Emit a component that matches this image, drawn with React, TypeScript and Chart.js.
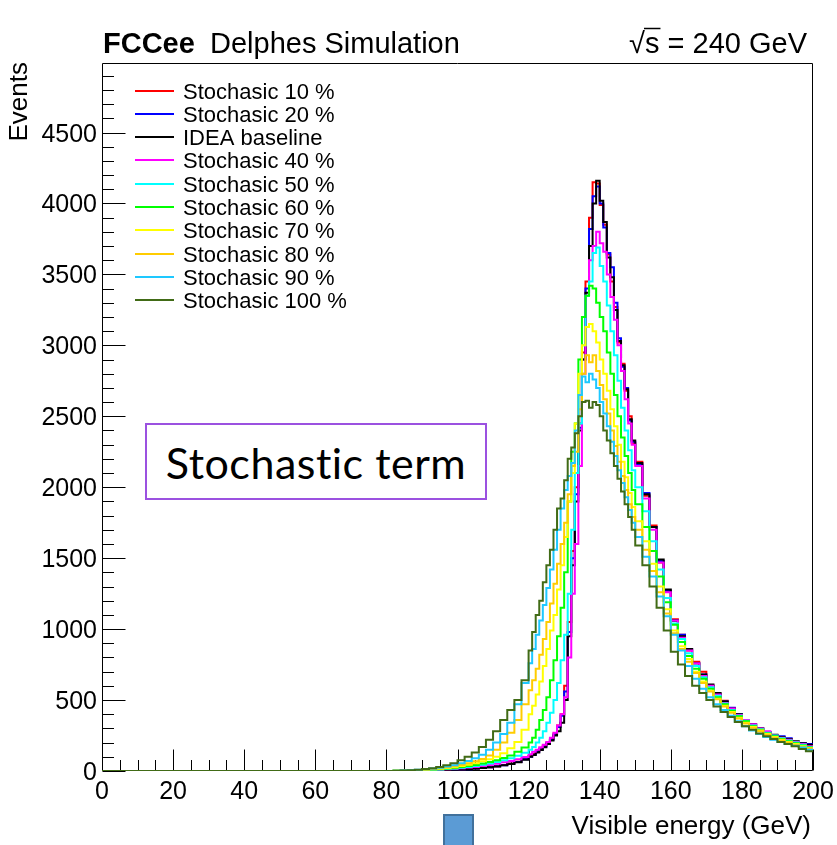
import React, { useEffect, useRef } from 'react';
import { Chart, registerables } from 'chart.js';

Chart.register(...registerables);

// Histogram bin left edges (GeV); last bin closes at xMax
const binEdges = [
  0,
  80, 82, 84, 86, 88, 90, 92, 94, 96, 98, 100, 102, 104, 106, 108, 110, 112, 114, 116, 118,
  120, 121, 122, 123, 124, 125, 126, 127, 128, 129, 130, 131, 132, 133, 134, 135, 136, 137, 138, 139,
  140, 141, 142, 143, 144, 145, 146, 147, 148, 149,
  150, 152, 154, 156, 158, 160, 162, 164, 166, 168, 170, 172, 174, 176, 178, 180, 182, 184, 186, 188,
  190, 192, 194, 196, 198,
];
const xMin = 0;
const xMax = 200;
const yMin = 0;
const yMax = 4990;

const xTickLabels = [0, 20, 40, 60, 80, 100, 120, 140, 160, 180, 200];
const yTickLabels = [0, 500, 1000, 1500, 2000, 2500, 3000, 3500, 4000, 4500];

const stoch10 = [
  0,
  0, 0, 1, 1, 2, 3, 4, 5, 7, 9, 11, 14, 18, 22, 27, 34, 42, 52, 65, 84,
  105, 120, 140, 158, 180, 200, 225, 265, 320, 400, 600, 1050, 1550, 2000, 2450, 2950, 3450, 3900, 4150, 4140,
  3990, 3850, 3640, 3450, 3270, 3020, 2870, 2680, 2500, 2310,
  2180, 1940, 1730, 1470, 1270, 1070, 960, 850, 770, 700, 600, 545, 495, 440, 395, 355, 325, 300, 270, 250,
  235, 220, 205, 190, 180,
];
const stoch20 = [
  0,
  0, 0, 1, 1, 2, 3, 4, 5, 6, 8, 10, 13, 17, 21, 26, 33, 41, 51, 63, 82,
  100, 115, 135, 152, 172, 195, 220, 258, 310, 390, 560, 980, 1500, 1950, 2420, 2900, 3400, 3820, 4050, 4120,
  4000, 3830, 3650, 3550, 3300, 3050, 2850, 2700, 2470, 2320,
  2160, 1960, 1720, 1480, 1270, 1060, 960, 860, 760, 680, 600, 540, 490, 445, 400, 360, 330, 300, 275, 250,
  245, 230, 205, 195, 190,
];
const ideaBaseline = [
  0,
  0, 0, 1, 1, 2, 3, 4, 5, 6, 8, 10, 13, 17, 21, 26, 32, 40, 50, 62, 80,
  100, 113, 130, 148, 168, 190, 215, 250, 280, 340, 500, 950, 1450, 1900, 2400, 2900, 3370, 3700, 4000, 4160,
  4020, 3870, 3620, 3480, 3250, 3030, 2860, 2690, 2480, 2330,
  2170, 1950, 1720, 1490, 1280, 1060, 950, 860, 760, 680, 610, 550, 490, 440, 400, 360, 330, 300, 275, 255,
  240, 225, 210, 195, 185,
];
const stoch40 = [
  0,
  0, 0, 1, 2, 3, 5, 7, 9, 12, 15, 19, 24, 29, 36, 43, 51, 61, 71, 83, 99,
  118, 135, 150, 168, 185, 205, 235, 270, 320, 400, 520, 800, 1250, 1600, 2150, 2800, 3350, 3600, 3700, 3800,
  3720, 3660, 3500, 3340, 3180, 3000, 2820, 2620, 2450, 2300,
  2150, 1920, 1700, 1470, 1260, 1060, 940, 850, 760, 670, 600, 540, 480, 440, 395, 360, 330, 300, 280, 250,
  235, 220, 205, 190, 175,
];
const stoch50 = [
  0,
  0, 1, 2, 3, 4, 6, 8, 11, 14, 18, 23, 29, 36, 44, 53, 63, 75, 90, 108, 128,
  150, 170, 200, 235, 280, 340, 410, 500, 620, 780, 960, 1250, 1700, 2100, 2450, 3000, 3350, 3450, 3650, 3690,
  3560, 3450, 3280, 3100, 2930, 2750, 2560, 2400, 2260, 2120,
  2000, 1830, 1620, 1420, 1220, 1040, 930, 830, 740, 660, 590, 530, 475, 430, 390, 355, 320, 295, 270, 250,
  230, 215, 200, 185, 170,
];
const stoch60 = [
  0,
  0, 1, 2, 3, 5, 7, 10, 13, 17, 22, 28, 35, 43, 52, 63, 76, 92, 110, 135, 165,
  200, 235, 290, 360, 430, 520, 640, 780, 950, 1150, 1400, 1900, 2250, 2450, 2900, 3200, 3350, 3420, 3400, 3300,
  3200, 3100, 2950, 2800, 2650, 2500, 2350, 2220, 2100, 1980,
  1880, 1720, 1550, 1370, 1190, 1030, 910, 810, 720, 650, 580, 520, 470, 425, 385, 350, 315, 290, 265, 245,
  225, 210, 195, 180, 165,
];
const stoch70 = [
  0,
  0, 1, 2, 4, 6, 9, 12, 16, 21, 27, 35, 44, 55, 68, 83, 100, 125, 160, 205, 290,
  400, 460, 540, 630, 740, 860, 990, 1100, 1280, 1450, 1650, 1900, 2100, 2450, 2800, 3000, 3130, 3150, 3100, 3020,
  2900, 2800, 2680, 2550, 2430, 2300, 2180, 2070, 1960, 1860,
  1760, 1620, 1460, 1300, 1140, 990, 880, 790, 700, 630, 565, 510, 460, 415, 375, 340, 310, 285, 260, 240,
  220, 205, 190, 175, 160,
];
const stoch80 = [
  0,
  0, 1, 2, 4, 7, 10, 14, 19, 25, 33, 42, 54, 68, 85, 110, 150, 200, 270, 360, 470,
  570, 640, 720, 820, 930, 1050, 1180, 1320, 1460, 1600, 1750, 1950, 2150, 2250, 2550, 2800, 2930, 2880, 2930, 2820,
  2720, 2620, 2520, 2400, 2290, 2180, 2080, 1980, 1880, 1790,
  1700, 1560, 1410, 1260, 1110, 970, 860, 770, 690, 620, 560, 505, 455, 410, 370, 335, 305, 280, 255, 235,
  215, 200, 185, 170, 160,
];
const stoch90 = [
  0,
  0, 1, 3, 5, 8, 12, 17, 23, 31, 41, 54, 70, 90, 115, 150, 200, 260, 340, 470, 620,
  760, 860, 960, 1060, 1170, 1290, 1420, 1560, 1700, 1850, 1980, 2080, 2170, 2400, 2650, 2780, 2740, 2800, 2760, 2700,
  2600, 2520, 2430, 2320, 2220, 2120, 2030, 1930, 1840, 1750,
  1650, 1510, 1370, 1230, 1090, 960, 850, 740, 650, 580, 520, 470, 430, 390, 350, 315, 285, 260, 240, 220,
  205, 190, 178, 165, 150,
];
const stoch100 = [
  0,
  0, 2, 4, 6, 9, 14, 20, 28, 40, 55, 75, 100, 130, 170, 220, 280, 360, 430, 500, 640,
  850, 980, 1100, 1200, 1330, 1450, 1560, 1700, 1850, 1920, 2050, 2200, 2280, 2380, 2500, 2600, 2610, 2560, 2600, 2580,
  2500, 2400, 2330, 2240, 2150, 2060, 1970, 1880, 1790, 1700,
  1590, 1450, 1300, 1150, 990, 840, 750, 670, 600, 550, 500, 455, 415, 380, 345, 315, 290, 265, 245, 225,
  205, 190, 175, 155, 140,
];

const seriesLabels = [
  'Stochasic 10 %',
  'Stochasic 20 %',
  'IDEA baseline',
  'Stochasic 40 %',
  'Stochasic 50 %',
  'Stochasic 60 %',
  'Stochasic 70 %',
  'Stochasic 80 %',
  'Stochasic 90 %',
  'Stochasic 100 %',
];
const seriesColors = [
  '#ff0000',
  '#0000ff',
  '#000000',
  '#ff00ff',
  '#00ffff',
  '#00ff00',
  '#ffff00',
  '#ffcc00',
  '#1ec8ff',
  '#416b16',
];
const seriesValues = [
  stoch10, stoch20, ideaBaseline, stoch40, stoch50, stoch60, stoch70, stoch80, stoch90, stoch100,
];

const FONT = '"Liberation Sans", Arial, Helvetica, sans-serif';

const rootPlugin = {
  id: 'rootStyle',
  beforeDatasetsDraw(chart: any) {
    const { ctx, chartArea: a, scales } = chart;
    const xs = scales.x;
    const ys = scales.y;
    ctx.save();
    ctx.strokeStyle = '#000';
    ctx.lineWidth = 1;
    const L = Math.round(a.left) + 0.5;
    const R = Math.round(a.right) - 0.5;
    const T = Math.round(a.top) + 0.5;
    const B = Math.round(a.bottom) - 0.5;
    ctx.beginPath();
    ctx.moveTo(L, T);
    ctx.lineTo(R, T);
    ctx.lineTo(R, B);
    ctx.lineTo(L, B);
    ctx.closePath();
    ctx.stroke();
    // x ticks (inside)
    ctx.beginPath();
    for (let v = xMin; v <= xMax; v += 5) {
      const px = Math.round(xs.getPixelForValue(v)) + 0.5;
      const len = v % 20 === 0 ? 21 : 10.5;
      ctx.moveTo(px, B);
      ctx.lineTo(px, B - len);
    }
    // y ticks (inside)
    for (let v = yMin; v <= yMax; v += 100) {
      const py = Math.round(ys.getPixelForValue(v)) + 0.5;
      const len = v % 500 === 0 ? 23 : 11.5;
      ctx.moveTo(L, py);
      ctx.lineTo(L + len, py);
    }
    ctx.stroke();
    ctx.restore();
  },
  afterDraw(chart: any) {
    const { ctx, chartArea: a, scales } = chart;
    const xs = scales.x;
    const ys = scales.y;
    ctx.save();
    ctx.fillStyle = '#000';
    // tick labels
    ctx.font = `25px ${FONT}`;
    ctx.textBaseline = 'alphabetic';
    ctx.textAlign = 'center';
    xTickLabels.forEach((v) => {
      ctx.fillText(String(v), xs.getPixelForValue(v), 799);
    });
    ctx.textAlign = 'right';
    yTickLabels.forEach((v) => {
      ctx.fillText(String(v), a.left - 5, ys.getPixelForValue(v) + 9);
    });
    // axis titles
    ctx.font = `26px ${FONT}`;
    ctx.textAlign = 'right';
    ctx.fillText('Visible energy (GeV)', a.right - 2, 834);
    ctx.save();
    ctx.translate(27, a.top - 1);
    ctx.rotate(-Math.PI / 2);
    ctx.textAlign = 'right';
    ctx.fillText('Events', 0, 0);
    ctx.restore();
    // title
    ctx.textAlign = 'left';
    ctx.font = `bold 29px ${FONT}`;
    ctx.fillText('FCCee', 103, 53);
    ctx.font = `29px ${FONT}`;
    ctx.fillText('Delphes Simulation', 210, 53);
    // sqrt(s)
    const sText = '√s = 240 GeV';
    const tw = ctx.measureText(sText).width;
    const sx = 807 - tw;
    ctx.fillText(sText, sx, 53);
    const rw = ctx.measureText('√').width;
    const sw = ctx.measureText('s').width;
    ctx.beginPath();
    ctx.lineWidth = 1.5;
    ctx.strokeStyle = '#000';
    ctx.moveTo(sx + rw - 1, 28.5);
    ctx.lineTo(sx + rw + sw + 1, 28.5);
    ctx.stroke();
    // legend
    ctx.font = `22px ${FONT}`;
    ctx.textAlign = 'left';
    seriesLabels.forEach((lab, i) => {
      const cy = 90.7 + i * 23.26;
      ctx.beginPath();
      ctx.strokeStyle = seriesColors[i];
      ctx.lineWidth = 2;
      ctx.moveTo(135, Math.round(cy));
      ctx.lineTo(174, Math.round(cy));
      ctx.stroke();
      ctx.fillStyle = '#000';
      ctx.fillText(lab, 183, cy + 8);
    });
    ctx.restore();
  },
};

export default function App() {
  const ref = useRef<HTMLCanvasElement | null>(null);

  useEffect(() => {
    if (!ref.current) return;
    const datasets = seriesValues.map((vals, i) => ({
      label: seriesLabels[i],
      data: [
        ...vals.map((v, k) => ({ x: binEdges[k], y: v })),
        { x: xMax, y: vals[vals.length - 1] },
      ],
      borderColor: seriesColors[i],
      backgroundColor: seriesColors[i],
      borderWidth: 2,
      pointRadius: 0,
      pointHoverRadius: 0,
      fill: false,
      tension: 0,
      stepped: 'before' as const,
      order: seriesLabels.length - i,
    }));
    const chart = new Chart(ref.current, {
      type: 'line',
      data: { datasets },
      options: {
        responsive: false,
        animation: false,
        devicePixelRatio: 1,
        events: [],
        layout: { padding: { left: 102, right: 24, top: 63, bottom: 74 } },
        scales: {
          x: { type: 'linear', min: xMin, max: xMax, display: false },
          y: { type: 'linear', min: yMin, max: yMax, display: false },
        },
        plugins: {
          legend: { display: false },
          tooltip: { enabled: false },
        },
      },
      plugins: [rootPlugin],
    } as any);
    return () => chart.destroy();
  }, []);

  return (
    <div
      style={{
        position: 'absolute',
        left: 0,
        top: 0,
        width: 837,
        height: 845,
        overflow: 'hidden',
        background: '#fff',
      }}
    >
      <canvas ref={ref} width={837} height={845} style={{ display: 'block', width: 837, height: 845 }} />
      <div
        style={{
          position: 'absolute',
          left: 145,
          top: 423,
          width: 342,
          height: 77,
          boxSizing: 'border-box',
          border: '2px solid #9b51e0',
          background: '#fff',
          display: 'flex',
          alignItems: 'center',
          justifyContent: 'center',
          fontFamily: 'Lato, "Open Sans", sans-serif',
          fontSize: 43,
          letterSpacing: 0.5,
          color: '#000',
          paddingTop: 1,
        }}
      >
        Stochastic term
      </div>
      <div
        style={{
          position: 'absolute',
          left: 443,
          top: 814,
          width: 31,
          height: 40,
          boxSizing: 'border-box',
          background: '#5b9bd5',
          border: '2px solid #41719c',
        }}
      />
    </div>
  );
}
